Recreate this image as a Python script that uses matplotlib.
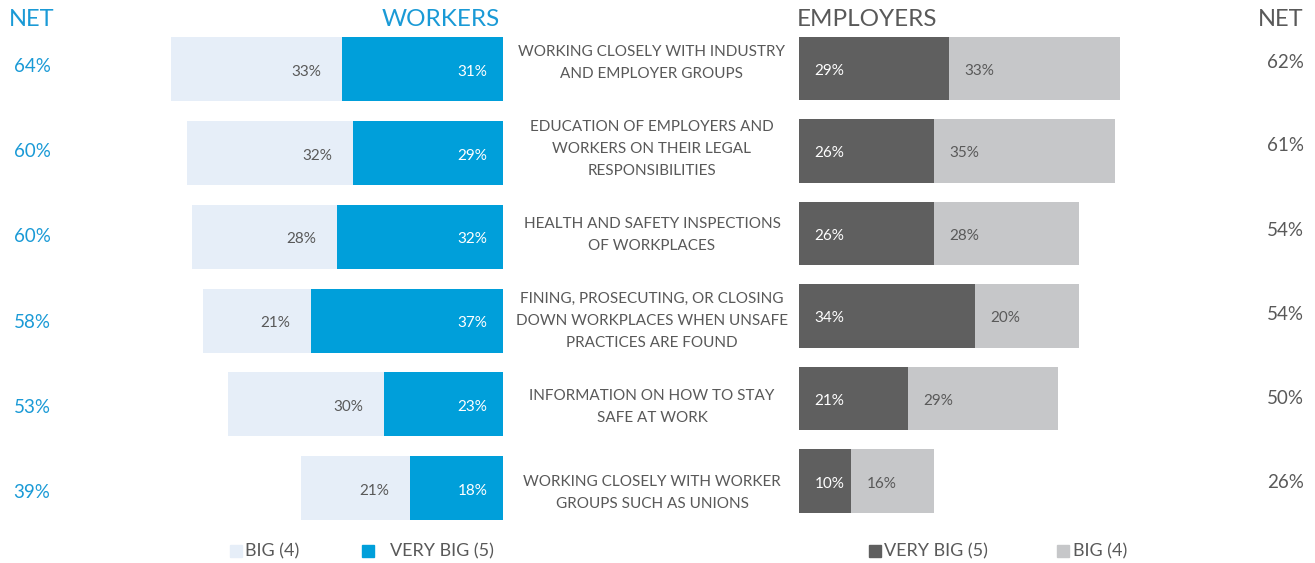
"""Workers vs employers: perceived effectiveness of safety measures."""

import matplotlib.pyplot as plt
from matplotlib.patches import Rectangle

plt.rcParams["font.family"] = ["Lato", "DejaVu Sans"]

categories = [
    "WORKING CLOSELY WITH INDUSTRY\nAND EMPLOYER GROUPS",
    "EDUCATION OF EMPLOYERS AND\nWORKERS ON THEIR LEGAL\nRESPONSIBILITIES",
    "HEALTH AND SAFETY INSPECTIONS\nOF WORKPLACES",
    "FINING, PROSECUTING, OR CLOSING\nDOWN WORKPLACES WHEN UNSAFE\nPRACTICES ARE FOUND",
    "INFORMATION ON HOW TO STAY\nSAFE AT WORK",
    "WORKING CLOSELY WITH WORKER\nGROUPS SUCH AS UNIONS",
]
workers_very_big = [31, 29, 32, 37, 23, 18]
workers_big = [33, 32, 28, 21, 30, 21]
workers_net = [64, 60, 60, 58, 53, 39]
employers_very_big = [29, 26, 26, 34, 21, 10]
employers_big = [33, 35, 28, 20, 29, 16]
employers_net = [62, 61, 54, 54, 50, 26]

BLUE = "#009fda"
LIGHT_BLUE = "#e6eef8"
DARK_GREY = "#5f5f5f"
LIGHT_GREY = "#c6c7c9"
TEXT = "#595959"
BLUE_TEXT = "#1a9ad6"

W, H = 1315, 563
fig = plt.figure(figsize=(W / 100, H / 100), dpi=100)

PX_PER_PCT = 5.18


def place(left_px, right_px, top_px, bottom_px):
    return [left_px / W, 1 - bottom_px / H, (right_px - left_px) / W, (bottom_px - top_px) / H]


def fx(px):
    return px / W


def fy(px):
    return 1 - px / H


# the two panels sit on slightly different row grids
ax_w = fig.add_axes(place(100, 503, 27.6, 529.9))
ax_e = fig.add_axes(place(799, 1220, 27.2, 522.3))
ax_w.set_xlim((503 - 100) / PX_PER_PCT, 0)
ax_e.set_xlim(0, (1220 - 799) / PX_PER_PCT)

rows = list(range(len(categories)))
bar_h = 0.765
ax_w.barh(rows, workers_very_big, height=bar_h, color=BLUE)
ax_w.barh(rows, workers_big, left=workers_very_big, height=bar_h, color=LIGHT_BLUE)
ax_e.barh(rows, employers_very_big, height=bar_h, color=DARK_GREY)
ax_e.barh(rows, employers_big, left=employers_very_big, height=bar_h, color=LIGHT_GREY)

pad = 3.0  # label offset from bar base, in percent units
for i in rows:
    ax_w.text(pad, i + 0.03, f"{workers_very_big[i]}%", ha="right",
              va="center", fontsize=11, color="white")
    ax_w.text(workers_very_big[i] + pad + 1, i + 0.03, f"{workers_big[i]}%", ha="right",
              va="center", fontsize=11, color=TEXT)
    ax_e.text(pad, i + 0.03, f"{employers_very_big[i]}%", ha="left",
              va="center", fontsize=11, color="white")
    ax_e.text(employers_very_big[i] + pad, i + 0.03, f"{employers_big[i]}%", ha="left",
              va="center", fontsize=11, color=TEXT)

for ax in (ax_w, ax_e):
    ax.set_ylim(len(categories) - 0.5, -0.5)
    ax.axis("off")

# category labels and NET columns
for i in rows:
    fig.text(fx(652), fy(63 + 86 * i), categories[i], ha="center", va="center",
             fontsize=11, color=TEXT, linespacing=1.75)
    fig.text(fx(32), fy(66 + 85.4 * i), f"{workers_net[i]}%", ha="center", va="center",
             fontsize=13.5, color=BLUE_TEXT)
    fig.text(fx(1304), fy(62 + 84 * i), f"{employers_net[i]}%", ha="right", va="center",
             fontsize=13.5, color=TEXT)

fig.text(fx(9), fy(20), "NET", ha="left", va="center", fontsize=17, color=BLUE_TEXT)
fig.text(fx(500), fy(20), "WORKERS", ha="right", va="center", fontsize=17.5, color=BLUE_TEXT)
fig.text(fx(797), fy(20), "EMPLOYERS", ha="left", va="center", fontsize=17.5, color=TEXT)
fig.text(fx(1304), fy(20), "NET", ha="right", va="center", fontsize=17, color=TEXT)

# legend swatches
legend_items = [
    (230, LIGHT_BLUE, 245, "BIG (4)"),
    (362, BLUE, 390, "VERY BIG (5)"),
    (869, DARK_GREY, 884, "VERY BIG (5)"),
    (1057, LIGHT_GREY, 1073, "BIG (4)"),
]
for sq_x, color, tx, label in legend_items:
    fig.patches.append(Rectangle((fx(sq_x), fy(557)), 12 / W, 12 / H, color=color,
                                 transform=fig.transFigure, figure=fig))
    fig.text(fx(tx), fy(551), label, ha="left", va="center", fontsize=13, color=TEXT)

fig.savefig("out.png", dpi=100)
